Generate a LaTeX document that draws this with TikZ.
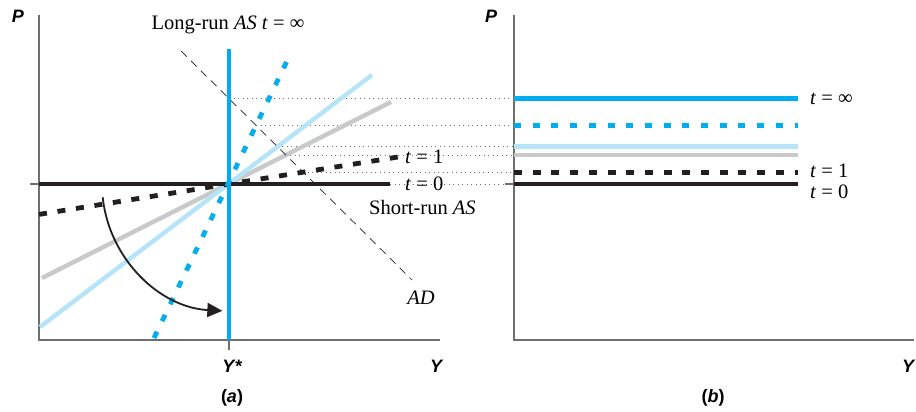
\documentclass[tikz,border=0pt]{standalone}
\usepackage{fontspec}
\setmainfont{Liberation Serif}
\newfontfamily\lblsans{Liberation Sans}
\usetikzlibrary{arrows.meta,intersections}
\definecolor{cyanA}{HTML}{00AEEF}
\definecolor{ltblue}{HTML}{B5E3F8}
\definecolor{midgray}{HTML}{C8C9CA}
\definecolor{inkblack}{HTML}{231F20}
\definecolor{axisgray}{HTML}{6D6E70}
\begin{document}
\begin{tikzpicture}[x=1pt,y=1pt,
  axis/.style={draw=axisgray,line width=1.1pt},
  dots/.style={draw=axisgray,line width=0.9pt,dash pattern=on 0.9pt off 3.6pt},
  thick line/.style={line width=4.8pt,line cap=butt},
  soft line/.style={line width=4.4pt,line cap=butt},
  blackdash/.style={thick line,draw=inkblack,dash pattern=on 8pt off 10.7pt},
  cyandash/.style={thick line,draw=cyanA,dash pattern=on 7pt off 11.7pt},
  adline/.style={draw=inkblack,line width=0.7pt,dash pattern=on 8pt off 6pt},
  lbl/.style={font=\fontsize{20.5}{23}\selectfont,inner sep=0pt},
  axlbl/.style={font=\lblsans\bfseries\itshape\fontsize{18}{20}\selectfont,inner sep=0pt},
  swing/.style={draw=inkblack,line width=1.8pt,-{Triangle[length=15pt,width=14pt]}}]
\useasboundingbox (0,0) rectangle (916,412);

% ---------- panel (a) ----------
\coordinate (O) at (229,228);
\coordinate (aTop) at (39,397);
\coordinate (aOrig) at (39,72);
\coordinate (aXend) at (440,72);
\coordinate (aTickL) at (30,228);
\coordinate (aTickR) at (39,228);
\coordinate (ysTickT) at (229,72);
\coordinate (ysTickB) at (229,62);

\coordinate (LRt) at (229,363);
\coordinate (LRb) at (229,72);
\coordinate (T0s) at (39,228);
\coordinate (T0e) at (390,228);
\coordinate (T1s) at (39,197.6);
\coordinate (T1e) at (398,255);
\coordinate (GRs) at (42,134);
\coordinate (GRe) at (391,310);
\coordinate (LBs) at (40,85);
\coordinate (LBe) at (372,337);
\coordinate (CDs) at (154,74);
\coordinate (CDe) at (287,351);
\coordinate (ADs) at (181,361);
\coordinate (ADe) at (412,132);

\path[name path=ADp] (ADs) -- (ADe);
\path[name path=LRp] (LRt) -- (LRb);
\path[name path=CDp] (CDs) -- (CDe);
\path[name path=LBp] (LBs) -- (LBe);
\path[name path=GRp] (GRs) -- (GRe);
\path[name path=T1p] (T1s) -- (T1e);
\path[name intersections={of=ADp and LRp,by=iLR}];
\path[name intersections={of=ADp and CDp,by=iCD}];
\path[name intersections={of=ADp and LBp,by=iLB}];
\path[name intersections={of=ADp and GRp,by=iGR}];
\path[name intersections={of=ADp and T1p,by=iT1}];

% ---------- panel (b) ----------
\coordinate (bTop) at (514,397);
\coordinate (bOrig) at (514,72);
\coordinate (bXend) at (914,72);
\coordinate (bTickL) at (505,228);
\coordinate (bEnd) at (798,72);

\coordinate (bLR) at (iLR -| bOrig);
\coordinate (bCD) at (iCD -| bOrig);
\coordinate (bLB) at (iLB -| bOrig);
\coordinate (bGR) at (iGR -| bOrig);
\coordinate (bT1) at (iT1 -| bOrig);
\coordinate (bT0) at (O -| bOrig);

% dotted guides
\draw[dots] (iLR) -- (bLR);
\draw[dots] (iCD) -- (bCD);
\draw[dots] (iLB) -- (bLB);
\draw[dots] (iGR) -- (bGR);
\draw[dots] (iT1) -- (bT1);
\draw[dots] (T0e) -- (bT0);

% axes
\draw[axis] (aTop) -- (aOrig) -- (aXend);
\draw[axis] (aTickL) -- (aTickR);
\draw[axis] (ysTickT) -- (ysTickB);
\draw[axis] (bTop) -- (bOrig) -- (bXend);
\draw[axis] (bTickL) -- (bT0);

% panel (a) curves
\draw[soft line,draw=midgray] (GRs) -- (GRe);
\draw[soft line,draw=ltblue] (LBs) -- (LBe);
\draw[adline] (ADs) -- (ADe);
\draw[thick line,draw=inkblack] (T0s) -- (T0e);
\draw[blackdash] (T1s) -- (T1e);
\draw[cyandash] (CDs) -- (CDe);
\draw[thick line,draw=cyanA] (LRt) -- (LRb);

% panel (b) lines
\draw[thick line,draw=cyanA] (bLR) -- (bLR -| bEnd);
\draw[cyandash] (bCD) -- (bCD -| bEnd);
\draw[soft line,draw=ltblue] (bLB) -- (bLB -| bEnd);
\draw[soft line,draw=midgray] (bGR) -- (bGR -| bEnd);
\draw[blackdash] (bT1) -- (bT1 -| bEnd);
\draw[thick line,draw=inkblack] (bT0) -- (bT0 -| bEnd);

% swing arrow
\draw[swing] ([shift={(186:127)}]O) arc[start angle=186,end angle=267,radius=127];

% labels
\node[lbl] (lrlab) at (228,387) {Long-run \textit{AS} \textit{t} = ∞};
\node[lbl,anchor=west] (t1a) at (405,255) {\textit{t} = 1};
\node[lbl,anchor=west] (t0a) at (405,228) {\textit{t} = 0};
\node[lbl,anchor=west] (srlab) at (369,205) {Short-run \textit{AS}};
\node[lbl] (adlab) at (421,114) {\textit{AD}};
\node[lbl,anchor=west] (tib) at (810,313) {\textit{t} = ∞};
\node[lbl,anchor=west] (t1b) at (810,241) {\textit{t} = 1};
\node[lbl,anchor=west] (t0b) at (810,220) {\textit{t} = 0};

\node[axlbl] (Pa) at (18,396) {P};
\node[axlbl] (Pb) at (491,396) {P};
\node[axlbl] (Ystar) at (232,46) {Y*};
\node[axlbl] (Ya) at (436,46) {Y};
\node[axlbl] (Yb) at (908,46) {Y};
\node[axlbl,font=\lblsans\bfseries\fontsize{18}{20}\selectfont] (capa) at (232,14) {(\textit{a})};
\node[axlbl,font=\lblsans\bfseries\fontsize{18}{20}\selectfont] (capb) at (713,14) {(\textit{b})};
\end{tikzpicture}
\end{document}
